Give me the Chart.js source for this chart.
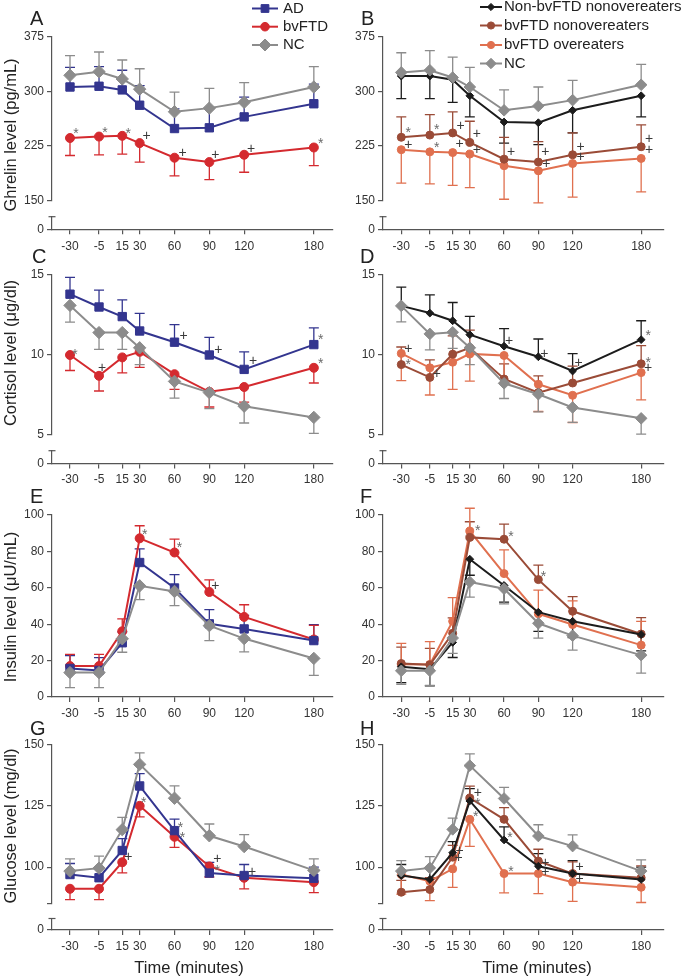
<!DOCTYPE html>
<html><head><meta charset="utf-8">
<script src="https://cdn.jsdelivr.net/npm/chart.js@4.4.0/dist/chart.umd.min.js"></script>
<style>
html,body{margin:0;padding:0;background:#fff;}
body{width:685px;height:978px;position:relative;overflow:hidden;font-family:'Liberation Sans',Arial,sans-serif;color:#222;}
canvas{position:absolute;}
.t{position:absolute;white-space:nowrap;color:#222;}
</style></head><body>
<script>
// ---------- DATA ----------
const times = [-30, -5, 15, 30, 60, 90, 120, 180];
const xTickValues = [-30, -5, 15, 30, 60, 90, 120, 180];

const leftGroupNames = ['AD', 'bvFTD', 'NC'];
const rightGroupNames = ['Non-bvFTD nonovereaters', 'bvFTD nonovereaters', 'bvFTD overeaters', 'NC'];

// Ghrelin (pg/mL)
const ghrelinTicks = [150, 225, 300, 375];
const ghrelinTickLabels = ['150', '225', '300', '375'];
const ghrelinAD = [306, 307, 302, 281, 249, 250, 265, 283];
const ghrelinADErr = [27, 27, 27, 27, 27, 27, 27, 27];
const ghrelinBv = [236, 238, 239, 229, 209, 203, 213, 223];
const ghrelinBvErr = [-24, -25, -25, -26, -25, -24, -24, -25];
const ghrelinNC = [322, 327, 317, 303, 272, 277, 285, 306];
const ghrelinNCErr = [27, 27, 26, 28, 27, 27, 27, 28];
const ghrelinNonBv = [321, 321, 316, 294, 258, 257, 274, 294];
const ghrelinNonBvErr = [-31, -31, -31, -29, -29, -30, -31, -29];
const ghrelinBvNon = [237, 240, 243, 230, 207, 203, 213, 224];
const ghrelinBvNonErr = [28, 28, 29, 29, 30, 28, 30, 30];
const ghrelinBvOver = [220, 217, 216, 214, 198, 191, 201, 208];
const ghrelinBvOverErr = [-46, -44, -45, -46, -46, -44, -46, -46];
const ghrelinNC2 = [326, 329, 319, 306, 274, 280, 288, 309];
const ghrelinNC2Err = [27, 27, 28, 27, 28, 26, 27, 28];

// Cortisol (µg/dl)
const cortisolTicks = [5, 10, 15];
const cortisolTickLabels = ['5', '10', '15'];
const cortisolAD = [13.8, 13.0, 12.4, 11.5, 10.8, 10.0, 9.1, 10.65];
const cortisolADErr = [1.05, 1.05, 1.05, 1.1, 1.1, 1.1, 1.1, 1.05];
const cortisolBv = [10.0, 8.7, 9.85, 10.2, 8.8, 7.7, 8.0, 9.2];
const cortisolBvErr = [-0.97, -0.95, -0.97, -0.97, -0.95, -0.95, -0.95, -0.95];
const cortisolNC = [13.1, 11.4, 11.4, 10.45, 8.35, 7.65, 6.8, 6.1];
const cortisolNCErr = [-1.05, -1.05, -1.05, -1.05, -1.05, -1.0, -1.05, -1.0];
const cortisolNonBv = [13.07, 12.62, 12.14, 11.27, 10.55, 9.89, 9.0, 10.96];
const cortisolNonBvErr = [1.17, 1.14, 1.14, 1.14, 1.1, 1.11, 1.09, 1.18];
const cortisolBvNon = [9.4, 8.6, 10.05, 10.45, 8.5, 7.65, 8.25, 9.45];
const cortisolBvNonErr = [1.1, 1.1, 1.14, 1.1, 0.95, 1.05, 1.05, 1.14];
const cortisolBvOver = [10.1, 9.2, 9.55, 10.07, 9.97, 8.17, 7.48, 8.9];
const cortisolBvOverErr = [-1.7, -1.7, -1.7, -1.7, -1.7, -1.7, -1.7, -1.7];
const cortisolNC2 = [13.07, 11.32, 11.42, 10.45, 8.23, 7.55, 6.72, 6.04];
const cortisolNC2Err = [-1.0, -1.0, -1.0, -1.05, -0.95, -1.1, -0.93, -0.98];

// Insulin (µU/mL)
const insulinTicks = [0, 20, 40, 60, 80, 100];
const insulinTickLabels = ['0', '20', '40', '60', '80', '100'];
const insulinAD = [15.7, 14.6, 29.8, 73.9, 59.9, 40.2, 37.4, 31.0];
const insulinADErr = [7, 7, 6, 7.5, 7.3, 7.8, 7.5, 8.8];
const insulinBv = [17.0, 17.0, 36.1, 87.2, 79.4, 57.7, 44.0, 31.6];
const insulinBvErr = [6.4, 6.4, 6.8, 6.9, 7.3, 6.7, 6.7, 7.8];
const insulinNC = [13.4, 13.4, 32.0, 61.1, 58.0, 39.2, 32.1, 21.2];
const insulinNCErr = [-8.3, -8.3, -7.4, -7.6, -7.8, -8.2, -7.3, -9.3];
const insulinNonBv = [16.6, 15.3, 30.0, 75.7, 61.3, 46.6, 41.6, 34.3];
const insulinNonBvErr = [-8.7, -9.2, -8.3, -8.8, -9.2, -10.5, -9, -9];
const insulinBvNon = [18.4, 17.7, 35.0, 87.7, 86.7, 64.5, 47.1, 34.6];
const insulinBvNonErr = [9, 9, 8.5, 8.6, 8.3, 8, 8, 9];
const insulinBvOver = [18.0, 17.9, 41.6, 91.2, 67.8, 45.7, 39.8, 28.5];
const insulinBvOverErr = [11.5, 12.5, 13, 12.5, 13, 13, 13, 13];
const insulinNC2 = [14.4, 14.4, 32.4, 63.2, 59.5, 40.5, 33.7, 23.0];
const insulinNC2Err = [-7.4, -8, -8.4, -8.3, -8.3, -8.1, -7.9, -9.9];

// Glucose (mg/dl)
const glucoseTicks = [85.2, 100, 125, 150];
const glucoseTickLabels = ['', '100', '125', '150'];
const glucoseAD = [97.0, 95.7, 106.8, 133.1, 114.9, 97.6, 96.6, 95.5];
const glucoseADErr = [4.5, 4.5, 4.8, 5.0, 4.7, 4.4, 4.5, 4.5];
const glucoseBv = [91.2, 91.2, 102.0, 125.0, 112.4, 100.3, 95.7, 93.9];
const glucoseBvErr = [-4.4, -4.4, -4.3, -4.5, -4.3, -4.3, -4.5, -4.3];
const glucoseNC = [98.4, 99.6, 115.3, 141.9, 128.1, 112.8, 108.4, 98.7];
const glucoseNCErr = [5, 4.9, 5, 4.7, 5, 4.8, 4.9, 4.7];
const glucoseNonBv = [96.6, 95.0, 105.9, 127.0, 111.1, 100.4, 97.4, 95.0];
const glucoseNonBvErr = [4.5, 4.5, 4.5, 5, 5.3, 5.1, 5.3, 5];
const glucoseBvNon = [89.8, 90.9, 104.1, 128.2, 119.5, 102.5, 97.4, 95.7];
const glucoseBvNonErr = [4.8, 4.8, 4.8, 4.8, 4.8, 4.8, 4.8, 4.8];
const glucoseBvOver = [97.0, 94.3, 99.3, 119.5, 97.4, 97.4, 93.9, 91.8];
const glucoseBvOverErr = [-8, -7.9, -7.5, -11, -7.9, -8.2, -7.8, -6.2];
const glucoseNC2 = [98.4, 99.7, 115.4, 141.4, 128.0, 112.7, 108.6, 98.4];
const glucoseNC2Err = [4.3, 4.6, 4.6, 4.8, 4.5, 4.6, 4.6, 4.6];

// significance marks: [series, point, dx, dy, symbol]
const annA = [[1,0,6,-7,'*'],[1,1,6,-6,'*'],[1,2,6,-5,'*'],[1,3,7,-7,'+'],[1,4,8,-5,'+'],[1,5,6,-7,'+'],[1,6,7,-6,'+'],[1,7,7,-6,'*']];
const annB = [[1,0,7,-7,'*'],[2,0,7,-5,'+'],[1,1,7,-8,'*'],[2,1,7,-7,'*'],[1,2,8,-7,'+'],[2,2,7,-8,'+'],[1,3,7,-8,'+'],[2,3,7,-4,'+'],[1,4,7,-7,'+'],[1,5,7,-10,'+'],[2,5,8,-7,'+'],[1,6,8,-8,'+'],[2,6,8,-6,'+'],[1,7,8,-8,'+'],[2,7,8,-8,'+']];
const annC = [[1,0,5,-3,'*'],[1,1,3,-8,'+'],[0,4,9,-6,'+'],[0,5,9,-5,'+'],[0,6,9,-8,'+'],[0,7,7,-7,'*'],[1,7,7,-7,'*']];
const annD = [[2,0,7,-4,'+'],[1,0,7,-2,'*'],[1,1,7,-3,'+'],[0,4,5,-5,'+'],[0,5,6,-3,'+'],[0,6,6,-8,'+'],[0,7,7,-6,'*'],[1,7,7,-4,'*'],[1,7,7,4,'+']];
const annE = [[1,3,5,-6,'*'],[1,4,5,-7,'*'],[1,5,6,-6,'+']];
const annF = [[2,3,8,-3,'*'],[1,4,7,-5,'*'],[1,5,5,-5,'*']];
const annG = [[1,3,4,-6,'*'],[0,4,6,-5,'*'],[1,4,8,-2,'*'],[1,2,6,-5,'+'],[1,5,8,-7,'+'],[1,5,8,2,'*'],[1,6,8,-6,'+']];
const annH = [[1,3,8,-5,'+'],[0,3,8,0,'*'],[2,3,6,-5,'*'],[0,4,6,-5,'*'],[2,4,7,-4,'*'],[0,2,7,-2,'+'],[0,2,6,5,'+'],[0,5,7,-3,'+'],[0,5,7,6,'+'],[0,6,7,-6,'+'],[0,6,7,6,'+']];

// ---------- STYLE ----------
const AXIS = '#555';
const leftStyles = [
  {color:'#33358f', shape:'rect', r:5.9, order:1},
  {color:'#d42a2f', shape:'circle', r:4.5, order:2},
  {color:'#8c8c8c', shape:'rectRot', r:6.2, order:0}
];
const rightStyles = [
  {color:'#1c1c1c', shape:'rectRot', r:3.9, order:1},
  {color:'#9a4b37', shape:'circle', r:4.0, order:2},
  {color:'#e0704f', shape:'circle', r:4.0, order:3},
  {color:'#8c8c8c', shape:'rectRot', r:5.8, order:0}
];
const rows = [
  {top:0, h:262, areaTop:36.7, areaBottom:229.3, w:[164,16,12.6], xPad:5},
  {top:262, h:226, areaTop:275, areaBottom:463.5, w:[160,15.7,12.8], xPad:4},
  {top:488, h:235, areaTop:515, areaBottom:697, w:null, xPad:4},
  {top:723, h:235, areaTop:744.5, areaBottom:930, w:[159,15,11.5], xPad:4}
];
const cols = [
  {left:0, w:342, areaLeft:52, areaRight:333, xMin:-45.5, xMax:196.5},
  {left:342, w:343, areaLeft:383, areaRight:664, xMin:-46, xMax:200}
];
const legendLeft = {x1:252, x2:278, tx:283, rows:[8.5,26.7,45], radii:[5.5,4.3,6]};
const legendRight = {x1:138, x2:160, tx:162, rows:[7,25.5,45,63.5], radii:[3.6,3.6,3.6,5.2]};

const panels = [
  {letter:'A', row:0, col:0, vals:[ghrelinAD,ghrelinBv,ghrelinNC], errs:[ghrelinADErr,ghrelinBvErr,ghrelinNCErr], ticks:ghrelinTicks, labels:ghrelinTickLabels, yMin:150, yMax:375, ann:annA, legend:legendLeft},
  {letter:'B', row:0, col:1, vals:[ghrelinNonBv,ghrelinBvNon,ghrelinBvOver,ghrelinNC2], errs:[ghrelinNonBvErr,ghrelinBvNonErr,ghrelinBvOverErr,ghrelinNC2Err], ticks:ghrelinTicks, labels:ghrelinTickLabels, yMin:150, yMax:375, ann:annB, legend:legendRight},
  {letter:'C', row:1, col:0, vals:[cortisolAD,cortisolBv,cortisolNC], errs:[cortisolADErr,cortisolBvErr,cortisolNCErr], ticks:cortisolTicks, labels:cortisolTickLabels, yMin:5, yMax:15, ann:annC},
  {letter:'D', row:1, col:1, vals:[cortisolNonBv,cortisolBvNon,cortisolBvOver,cortisolNC2], errs:[cortisolNonBvErr,cortisolBvNonErr,cortisolBvOverErr,cortisolNC2Err], ticks:cortisolTicks, labels:cortisolTickLabels, yMin:5, yMax:15, ann:annD},
  {letter:'E', row:2, col:0, vals:[insulinAD,insulinBv,insulinNC], errs:[insulinADErr,insulinBvErr,insulinNCErr], ticks:insulinTicks, labels:insulinTickLabels, yMin:0, yMax:100, ann:annE},
  {letter:'F', row:2, col:1, vals:[insulinNonBv,insulinBvNon,insulinBvOver,insulinNC2], errs:[insulinNonBvErr,insulinBvNonErr,insulinBvOverErr,insulinNC2Err], ticks:insulinTicks, labels:insulinTickLabels, yMin:0, yMax:100, ann:annF},
  {letter:'G', row:3, col:0, vals:[glucoseAD,glucoseBv,glucoseNC], errs:[glucoseADErr,glucoseBvErr,glucoseNCErr], ticks:glucoseTicks, labels:glucoseTickLabels, yMin:85.2, yMax:150, ann:annG},
  {letter:'H', row:3, col:1, vals:[glucoseNonBv,glucoseBvNon,glucoseBvOver,glucoseNC2], errs:[glucoseNonBvErr,glucoseBvNonErr,glucoseBvOverErr,glucoseNC2Err], ticks:glucoseTicks, labels:glucoseTickLabels, yMin:85.2, yMax:150, ann:annH}
];

Chart.defaults.font.family = "'Liberation Sans', Arial, sans-serif";

// ---------- PLUGINS ----------
const errPlugin = {
  id:'errBars',
  beforeDatasetsDraw(chart){
    const ctx = chart.ctx, ys = chart.scales.y;
    chart.data.datasets.forEach((ds,i)=>{
      const meta = chart.getDatasetMeta(i);
      ctx.save(); ctx.strokeStyle = ds.borderColor; ctx.lineWidth = 1.3;
      meta.data.forEach((pt,j)=>{
        const e = ds.errValues[j]; if(!e) return;
        const yEnd = ys.getPixelForValue(ds.data[j].y + e);
        ctx.beginPath();
        ctx.moveTo(pt.x, pt.y); ctx.lineTo(pt.x, yEnd);
        ctx.moveTo(pt.x-5, yEnd); ctx.lineTo(pt.x+5, yEnd);
        ctx.stroke();
      });
      ctx.restore();
    });
  }
};
const annPlugin = {
  id:'sigMarks',
  afterDatasetsDraw(chart, args, opts){
    const ctx = chart.ctx; const list = chart.options.plugins.sigMarks.list || [];
    ctx.save(); ctx.font = "14px 'Liberation Sans', Arial, sans-serif"; ctx.textAlign='center'; ctx.textBaseline='middle';
    list.forEach(([si,pi,dx,dy,s])=>{
      const pt = chart.getDatasetMeta(si).data[pi];
      ctx.fillStyle = s==='*' ? '#6a6a6a' : '#3a3a3a';
      ctx.fillText(s, pt.x+dx, pt.y+dy+(s==='*'?3:0));
    });
    ctx.restore();
  }
};
const breakCapPlugin = {
  id:'breakCap',
  afterDraw(chart){
    const s = chart.scales.yLo; if(!s) return;
    const ctx = chart.ctx; ctx.save(); ctx.strokeStyle = AXIS; ctx.lineWidth = 1.2;
    ctx.beginPath(); ctx.moveTo(s.right-3.5, s.top); ctx.lineTo(s.right+3.5, s.top); ctx.stroke(); ctx.restore();
  }
};
const legendPlugin = {
  id:'sideLegend',
  afterDraw(chart){
    const lg = chart.options.plugins.sideLegend.spec; if(!lg) return;
    const ctx = chart.ctx;
    chart.data.datasets.forEach((ds,i)=>{
      const y = lg.rows[i];
      ctx.save();
      ctx.strokeStyle = ds.borderColor; ctx.lineWidth = 2;
      ctx.beginPath(); ctx.moveTo(lg.x1, y); ctx.lineTo(lg.x2, y); ctx.stroke();
      ctx.fillStyle = ds.backgroundColor; ctx.strokeStyle = ds.borderColor; ctx.lineWidth = 1;
      Chart.helpers.drawPoint(ctx, {pointStyle: ds.pointStyle, radius: lg.radii[i], rotation:0, borderWidth:1}, (lg.x1+lg.x2)/2, y);
      ctx.fillStyle = '#222'; ctx.font = "15px 'Liberation Sans', Arial, sans-serif";
      ctx.textAlign='left'; ctx.textBaseline='middle';
      ctx.fillText(ds.label, lg.tx, y);
      ctx.restore();
    });
  }
};

// ---------- BUILD ----------
panels.forEach(p=>{
  const row = rows[p.row], col = cols[p.col];
  const styles = p.col===0 ? leftStyles : rightStyles;
  const names = p.col===0 ? leftGroupNames : rightGroupNames;
  const cv = document.createElement('canvas');
  cv.width = col.w; cv.height = row.h;
  cv.style.left = col.left+'px'; cv.style.top = row.top+'px';
  document.body.appendChild(cv);

  const yW = col.areaLeft - col.left;
  const xH = row.top + row.h - row.areaBottom;
  const grid = {display:true, drawOnChartArea:false, drawTicks:true, tickLength:5, color:AXIS, lineWidth:1.2};
  const border = {display:true, color:AXIS, width:1.2};
  const tickFont = {size:12};
  const scales = {
    x:{type:'linear', position:'bottom', min:col.xMin, max:col.xMax, grid, border,
       afterBuildTicks:s=>{ s.ticks = xTickValues.map(v=>({value:v})); },
       ticks:{color:'#333', font:tickFont, padding:row.xPad, autoSkip:false, maxRotation:0, callback:v=>String(v)},
       afterFit:s=>{ s.height = xH; }}
  };
  const yMain = {type:'linear', position:'left', min:p.yMin, max:p.yMax, grid, border,
       afterBuildTicks:s=>{ s.ticks = p.ticks.map(v=>({value:v})); },
       ticks:{color:'#333', font:tickFont, padding:3, autoSkip:false, callback:(v,i)=>p.labels[i]},
       afterFit:s=>{ s.width = yW; }};
  if(row.w){
    scales.yLo = {type:'linear', position:'left', stack:'ybreak', stackWeight:row.w[2], weight:1, min:0, max:1, grid, border,
       afterBuildTicks:s=>{ s.ticks = [{value:0}]; },
       ticks:{color:'#333', font:tickFont, padding:3, callback:()=> '0'},
       afterFit:s=>{ s.width = yW; }};
    scales.yGap = {type:'linear', position:'left', stack:'ybreak', stackWeight:row.w[1], weight:2, display:false, min:0, max:1};
    Object.assign(yMain, {stack:'ybreak', stackWeight:row.w[0], weight:3});
  }
  scales.y = yMain;

  const datasets = p.vals.map((vals,k)=>({
    label:names[k],
    data:times.map((t,i)=>({x:t, y:vals[i]})),
    errValues:p.errs[k],
    borderColor:styles[k].color, backgroundColor:styles[k].color,
    pointBackgroundColor:styles[k].color, pointBorderColor:styles[k].color,
    pointStyle:styles[k].shape, pointRadius:styles[k].r, pointHoverRadius:styles[k].r, pointBorderWidth:1,
    borderWidth:2, tension:0, order:styles[k].order, xAxisID:'x', yAxisID:'y', fill:false
  }));

  new Chart(cv, {
    type:'line',
    data:{datasets},
    options:{
      responsive:false, animation:false, events:[],
      layout:{padding:{left:0, right:col.left+col.w-col.areaRight, top:row.areaTop-row.top, bottom:0}},
      scales,
      plugins:{legend:{display:false}, tooltip:{enabled:false}, sigMarks:{list:p.ann}, sideLegend:{spec:p.legend||null}}
    },
    plugins:[errPlugin, annPlugin, breakCapPlugin, legendPlugin]
  });
});

// ---------- TEXT ----------
function addText(txt, x, baseline, size){
  const d = document.createElement('div'); d.className='t'; d.textContent = txt;
  d.style.fontSize = size+'px'; d.style.lineHeight = size+'px';
  d.style.left = x+'px'; d.style.top = (baseline - 0.8465*size)+'px';
  document.body.appendChild(d);
}
function addCentered(txt, cx, cy, size, rot){
  const d = document.createElement('div'); d.className='t'; d.textContent = txt;
  d.style.fontSize = size+'px'; d.style.lineHeight = size+'px';
  d.style.left = cx+'px'; d.style.top = cy+'px';
  d.style.transform = 'translate(-50%,-50%)' + (rot ? ' rotate(-90deg)' : '');
  document.body.appendChild(d);
}
const letterPos = {A:[30,25], B:[361,25], C:[32,263.3], D:[360,263.3], E:[30,503.3], F:[360,503.3], G:[30,735], H:[360,735]};
panels.forEach(p=>{ const lp = letterPos[p.letter]; addText(p.letter, lp[0], lp[1], 20); });
addCentered('Ghrelin level (pg/mL)', 9.5, 135, 16.5, true);
addCentered('Cortisol level (μg/dl)', 10, 353, 16.5, true);
addCentered('Insulin level (μU/mL)', 10, 607, 16.5, true);
addCentered('Glucose level (mg/dl)', 10, 826, 16.5, true);
addCentered('Time (minutes)', 189, 967, 16.5, false);
addCentered('Time (minutes)', 537, 967, 16.5, false);
</script>
</body></html>
